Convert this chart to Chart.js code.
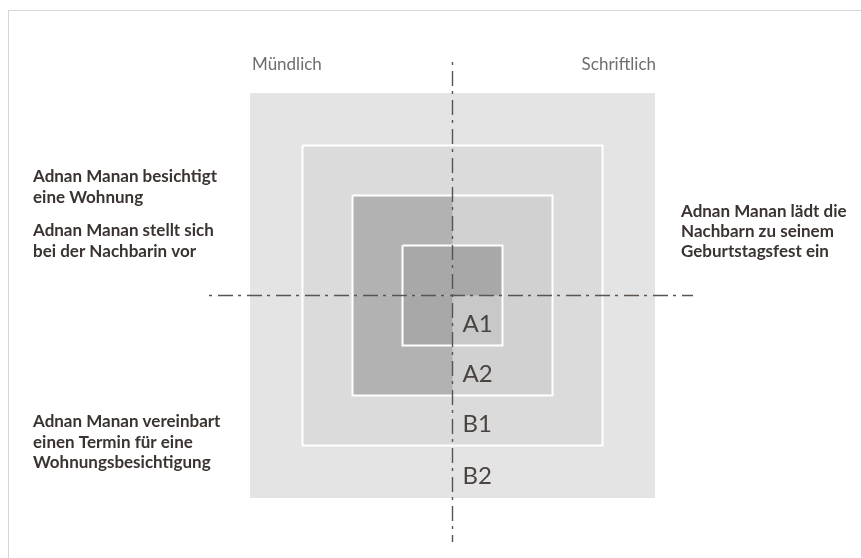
<!DOCTYPE html>
<html lang="de">
<head>
<meta charset="utf-8">
<title>Mündlich / Schriftlich – Niveaustufen</title>
<script src="https://cdn.jsdelivr.net/npm/chart.js@4.4.1/dist/chart.umd.min.js"></script>
<style>
    html, body { margin: 0; padding: 0; background: #fff; overflow: hidden; }
    #frame { position: absolute; left: 8px; top: 10px; width: 900px; height: 600px; border: 1px solid #d6d6d6; }
    #wrap { position: absolute; left: 0; top: 0; width: 861px; height: 558px; }
</style>
</head>
<body>
<div id="frame"></div>
<div id="wrap"><canvas id="stufenChart"></canvas></div>
<script>
// Niveaustufen von innen nach außen, halbe Kantenlänge der Quadrate
const levels = ['A1', 'A2', 'B1', 'B2'];
const levelHalfSize = [1, 2, 3, 4.05];
// Quadranten, die "mündlich" (dunkel) sind: [oben links, oben rechts, unten links, unten rechts]
const oralQuadrants = [
    [1, 1, 1, 0],
    [1, 0, 1, 0],
    [0, 0, 0, 0],
    [0, 0, 0, 0]
];
const sideLabels = ['Mündlich', 'Schriftlich'];
const leftNotes = [
    ['Adnan Manan besichtigt', 'eine Wohnung'],
    ['Adnan Manan stellt sich', 'bei der Nachbarin vor'],
    ['Adnan Manan vereinbart', 'einen Termin für eine', 'Wohnungsbesichtigung']
];
const rightNotes = [
    ['Adnan Manan lädt die', 'Nachbarn zu seinem', 'Geburtstagsfest ein']
];
// Ausdehnung der Strich-Punkt-Achsen
const axisX = [-4.87, 4.81];
const axisY = [4.67, -4.93];

// Farben
const lightColors = ['#c8c8c8', '#d1d1d1', '#dbdbdb', '#e4e4e4'];
const darkColors = ['#a8a8a8', '#b2b2b2', '#c4c4c4', '#d6d6d6'];
const axisColor = '#5b534e';

function squarePoints(h) {
    return [{x: -h, y: h}, {x: h, y: h}, {x: h, y: -h}, {x: -h, y: -h}, {x: -h, y: h}];
}

function quadrantPoints(h, q) {
    const sx = q % 2 === 0 ? -1 : 1;
    const sy = q < 2 ? 1 : -1;
    return [{x: 0, y: 0}, {x: sx * h, y: 0}, {x: sx * h, y: sy * h}, {x: 0, y: sy * h}, {x: 0, y: 0}];
}

const base = {
    showLine: true,
    pointRadius: 0,
    pointHoverRadius: 0,
    tension: 0
};

// Datensätze von unten nach oben aufbauen
const stack = [];
for (let i = levels.length - 1; i >= 0; i--) {
    const h = levelHalfSize[i];
    stack.push(Object.assign({}, base, {
        label: levels[i],
        data: squarePoints(h),
        fill: 'shape',
        backgroundColor: lightColors[i],
        borderColor: 'transparent',
        borderWidth: 0
    }));
    oralQuadrants[i].forEach((isOral, q) => {
        if (!isOral) return;
        stack.push(Object.assign({}, base, {
            label: levels[i] + ' mündlich',
            data: quadrantPoints(h, q),
            fill: 'shape',
            backgroundColor: darkColors[i],
            borderColor: 'transparent',
            borderWidth: 0
        }));
    });
    if (i < levels.length - 1) {
        stack.push(Object.assign({}, base, {
            label: levels[i] + ' Rand',
            data: squarePoints(h),
            fill: false,
            borderColor: '#ffffff',
            borderWidth: 2
        }));
    }
}
stack.push(Object.assign({}, base, {
    label: 'Achse horizontal',
    data: [{x: axisX[0], y: 0}, {x: axisX[1], y: 0}],
    fill: false,
    borderColor: axisColor,
    borderWidth: 1.4,
    borderDash: [3, 6, 15, 5]
}));
stack.push(Object.assign({}, base, {
    label: 'Achse vertikal',
    data: [{x: 0, y: axisY[0]}, {x: 0, y: axisY[1]}],
    fill: false,
    borderColor: axisColor,
    borderWidth: 1.4,
    borderDash: [3, 6, 15, 5]
}));
// höhere order wird zuerst (also unten) gezeichnet
stack.forEach((ds, idx) => { ds.order = stack.length - idx; });

const textPlugin = {
    id: 'stufenText',
    afterDraw(chart) {
        const ctx = chart.ctx;
        const xs = chart.scales.x;
        const ys = chart.scales.y;
        const area = chart.chartArea;
        const cx = xs.getPixelForValue(0);
        const outer = levelHalfSize[levelHalfSize.length - 1];
        ctx.save();
        ctx.textBaseline = 'alphabetic';

        // Stufenbezeichnungen
        ctx.font = '24px Lato';
        ctx.fillStyle = '#4a4340';
        ctx.textAlign = 'left';
        levels.forEach((lv, i) => {
            ctx.fillText(lv, cx + 10, ys.getPixelForValue(-levelHalfSize[i]) - 14);
        });

        // Mündlich / Schriftlich
        ctx.font = '17px Lato';
        ctx.fillStyle = '#6e6e6e';
        const topY = ys.getPixelForValue(outer) - 23;
        ctx.textAlign = 'left';
        ctx.fillText(sideLabels[0], xs.getPixelForValue(-outer) + 2, topY);
        ctx.textAlign = 'right';
        ctx.fillText(sideLabels[1], xs.getPixelForValue(outer) + 1, topY);

        // Beispielsituationen
        ctx.font = 'bold 17px Lato';
        ctx.fillStyle = '#3a3330';
        ctx.textAlign = 'left';
        const leftTops = [182, 236, 427];
        leftNotes.forEach((lines, g) => {
            lines.forEach((t, k) => ctx.fillText(t, area.left + 33, area.top + leftTops[g] + k * 20.5));
        });
        const rightTops = [217];
        rightNotes.forEach((lines, g) => {
            lines.forEach((t, k) => ctx.fillText(t, area.left + 681, area.top + rightTops[g] + k * 20));
        });
        ctx.restore();
    }
};

const stufenChart = new Chart(document.getElementById('stufenChart').getContext('2d'), {
    type: 'scatter',
    data: { datasets: stack },
    options: {
        responsive: true,
        maintainAspectRatio: false,
        animation: false,
        events: [],
        layout: { padding: 0 },
        scales: {
            x: { type: 'linear', display: false, min: -9.05, max: 8.17 },
            y: { type: 'linear', display: false, min: -5.25, max: 5.91 }
        },
        plugins: {
            legend: { display: false },
            tooltip: { enabled: false },
            title: { display: false }
        }
    },
    plugins: [textPlugin]
});
</script>
</body>
</html>
